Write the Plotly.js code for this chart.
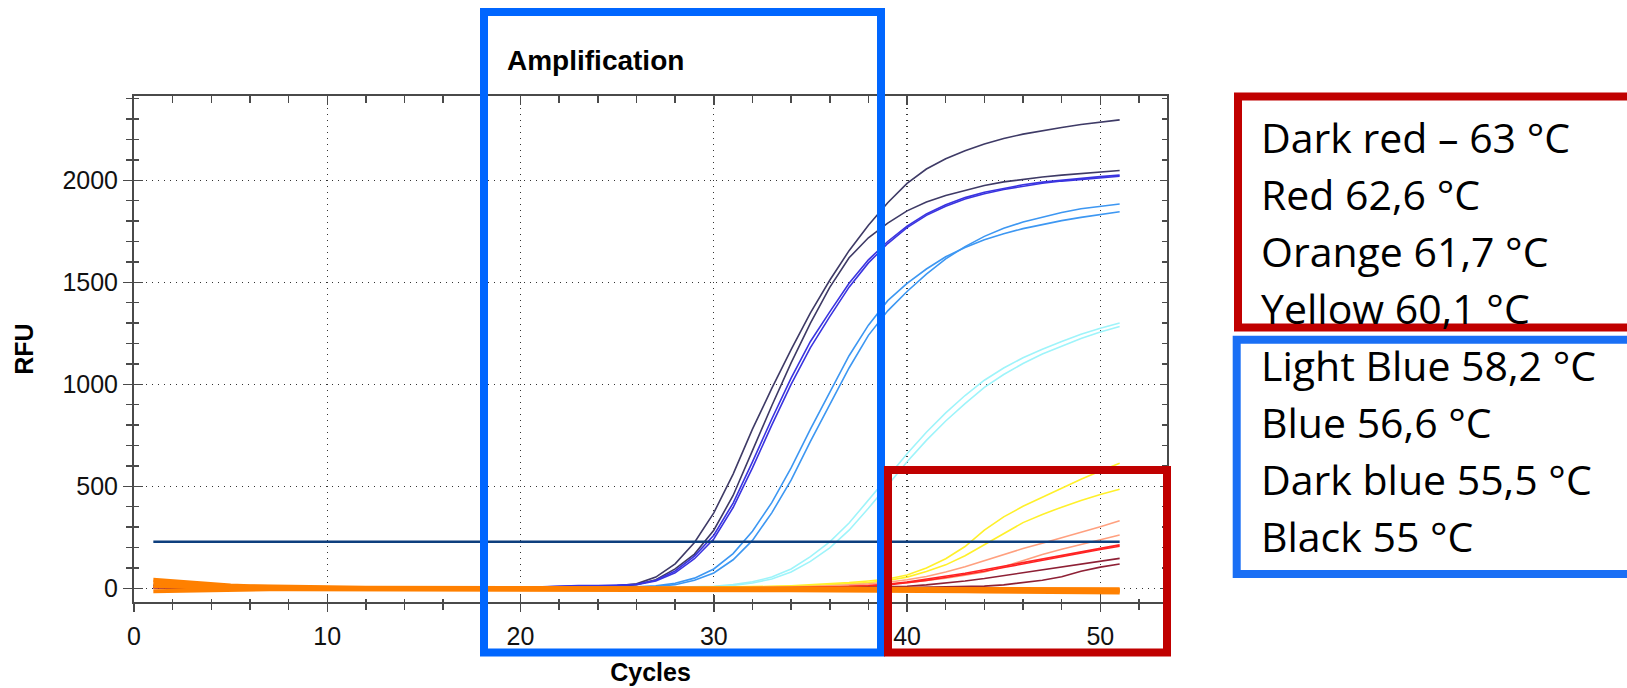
<!DOCTYPE html>
<html>
<head>
<meta charset="utf-8">
<script src="https://cdn.plot.ly/plotly-3.0.1.min.js"></script>
<style>html,body{margin:0;padding:0;background:#fff;}#chart{width:1627px;height:688px;}</style>
</head>
<body>
<div id="chart"></div>
<script>
// ---------- DATA ----------
const cycles = [1,2,3,4,5,6,7,8,9,10,11,12,13,14,15,16,17,18,19,20,21,22,23,24,25,26,27,28,29,30,31,32,33,34,35,36,37,38,39,40,41,42,43,44,45,46,47,48,49,50,51];

// Black (55 °C)
const black1 = [15,10,6,4,3,2,2,1,1,1, 1,1,0,0,0,0,1,1,2,3, 4,6,8,10,12,22,55,120,225,370, 560,780,980,1170,1350,1510,1655,1780,1890,1985, 2055,2105,2145,2178,2205,2226,2244,2259,2273,2285,2296];
const black2 = [12,8,5,3,2,2,1,1,1,0, 0,0,0,0,0,0,0,1,1,2, 3,5,7,9,11,18,42,95,168,285, 455,675,895,1105,1300,1475,1620,1718,1790,1850, 1893,1925,1951,1974,1992,2005,2016,2025,2033,2041,2048];
// Dark blue (55,5 °C)
const darkBlue1 = [14,9,6,4,3,2,2,1,1,1, 1,0,0,0,0,0,0,1,2,4, 8,12,14,14,15,20,40,85,158,260, 418,620,830,1030,1210,1355,1495,1610,1700,1775, 1835,1880,1915,1941,1961,1978,1991,2001,2010,2018,2025];
const darkBlue2 = [13,8,5,3,2,2,1,1,1,0, 0,0,0,0,0,0,0,1,2,3, 6,10,12,13,14,18,36,76,145,242, 396,590,800,1000,1180,1332,1476,1595,1690,1768, 1828,1873,1908,1934,1955,1971,1985,1996,2005,2013,2020];
// Blue (56,6 °C)
const blue1 = [10,7,5,3,2,2,1,1,1,0, 0,0,0,0,0,0,0,0,1,1, 2,3,4,5,6,8,12,25,50,95, 170,280,420,590,780,960,1140,1290,1410,1495, 1565,1625,1670,1708,1738,1763,1784,1802,1818,1833,1846];
const blue2 = [9,6,4,3,2,1,1,1,0,0, 0,0,0,0,0,0,0,0,0,1, 1,2,3,4,5,6,9,18,40,75, 140,235,370,530,720,900,1080,1240,1360,1455, 1540,1615,1675,1725,1765,1795,1820,1842,1860,1873,1884];
// Light blue (58,2 °C)
const lightBlue1 = [8,5,3,2,1,1,1,0,0,0, 0,0,0,0,0,0,0,0,0,0, 1,1,2,2,3,3,4,5,7,10, 18,32,55,95,155,228,320,430,545,660, 765,860,945,1020,1080,1130,1172,1210,1245,1275,1300];
const lightBlue2 = [7,4,3,2,1,1,0,0,0,0, 0,0,0,0,0,0,0,0,0,0, 0,1,1,2,2,3,3,4,6,8, 14,26,46,80,132,198,285,392,505,620, 725,820,905,985,1048,1102,1148,1188,1225,1256,1283];
// Yellow (60,1 °C)
const yellow1 = [6,4,2,1,1,0,0,0,0,0, 0,0,0,0,0,0,0,0,0,0, 0,0,1,1,2,2,3,3,4,5, 6,8,10,13,17,22,28,36,46,65, 100,145,205,285,350,402,447,492,535,575,613];
const yellow2 = [5,3,2,1,1,0,0,0,0,0, 0,0,0,0,0,0,0,0,0,0, 0,0,0,1,1,2,2,3,3,4, 5,6,8,10,13,17,22,28,38,55, 82,115,160,215,270,322,362,398,430,460,486];
// Orange (61,7 °C)
const orange1 = [5,3,2,1,1,0,0,0,0,0, 0,0,0,0,0,0,0,0,0,0, 0,0,0,0,1,1,1,2,2,2, 3,4,5,7,9,12,16,22,30,42, 58,80,106,136,166,195,221,247,274,302,331];
const orange2 = [4,3,2,1,0,0,0,0,0,0, 0,0,0,0,0,0,0,0,0,0, 0,0,0,0,0,1,1,1,1,2, 2,3,4,5,7,9,12,16,21,28, 38,50,64,80,106,136,166,192,214,237,261];
// Red (62,6 °C)
const red1 = [5,3,2,1,0,0,0,0,0,0, 0,0,0,0,0,0,0,0,0,0, 0,0,0,0,0,0,0,1,1,1, 1,2,3,4,5,7,9,13,20,31, 45,59,74,91,109,127,145,162,179,196,213];
const red2 = [4,2,1,1,0,0,0,0,0,0, 0,0,0,0,0,0,0,0,0,0, 0,0,0,0,0,0,0,0,1,1, 1,1,2,3,4,6,8,11,17,27, 39,53,68,84,102,120,138,156,173,190,206];
// Dark red (63 °C)
const darkRed1 = [4,2,1,1,0,0,0,0,0,0, 0,0,0,0,0,0,0,0,0,0, 0,0,0,0,0,0,0,0,0,0, 0,1,1,2,2,3,4,5,6,10, 17,26,36,48,62,77,92,107,121,134,147];
const darkRed2 = [3,2,1,0,0,0,0,0,0,0, 0,0,0,0,0,0,0,0,0,0, 0,0,0,0,0,0,0,0,0,0, 0,0,1,1,1,2,2,3,3,4, 5,6,8,11,17,27,40,57,84,104,119];
// Flat (non-amplifying) orange wells
const flat1 = [42,34,26,19,14,10,8,6,5,4, 4,3,3,3,3,2,2,2,2,2, 2,2,1,1,1,1,1,1,0,0, 0,0,0,-1,-1,-1,-1,-2,-2,-2, -2,-3,-3,-3,-3,-4,-4,-4,-4,-5,-5];
const flat2 = [28,22,17,12,9,7,5,4,3,2, 2,1,1,1,1,1,1,0,0,0, 0,0,0,0,-1,-1,-1,-1,-1,-2, -2,-2,-2,-3,-3,-3,-4,-4,-4,-5, -5,-5,-6,-6,-6,-7,-7,-7,-8,-8,-8];
const flat3 = [12,8,5,3,1,0,-1,-1,-2,-2, -2,-2,-2,-2,-2,-2,-3,-3,-3,-3, -3,-3,-3,-3,-4,-4,-4,-4,-4,-5, -5,-5,-6,-6,-6,-7,-7,-8,-8,-8, -9,-9,-10,-10,-11,-11,-12,-12,-13,-13,-14];
const flat4 = [-14,-12,-10,-8,-7,-6,-5,-5,-5,-5, -5,-5,-5,-5,-5,-5,-5,-5,-6,-6, -6,-6,-6,-6,-7,-7,-7,-7,-8,-8, -8,-9,-9,-10,-10,-11,-11,-12,-12,-13, -13,-14,-14,-15,-16,-16,-17,-18,-18,-19,-20];
// Threshold
const thresholdCycles = [1, 51];
const thresholdRFU = [228, 228];

const xTickVals = [0,10,20,30,40,50];
const xMinorVals = [2,4,6,8,12,14,16,18,22,24,26,28,32,34,36,38,42,44,46,48,52];
const yTickVals = [0,500,1000,1500,2000];
const legendLines = ["Dark red – 63 °C","Red 62,6 °C","Orange 61,7 °C","Yellow 60,1 °C","Light Blue 58,2 °C","Blue 56,6 °C","Dark blue 55,5 °C","Black 55 °C"];

// ---------- STYLE ----------
const W = 1627, H = 688, ML = 134, MR = 460, MT = 96, MB = 86;
const PW = W - ML - MR, PH = H - MT - MB;
const px = x => (x - ML) / PW;
const py = y => (H - MB - y) / PH;

const groups = [
  {data:[black1, black2], color:'#3e3a66', width:1.6},
  {data:[darkBlue1, darkBlue2], color:'#3a34e0', width:1.6},
  {data:[blue1, blue2], color:'#3d97f2', width:1.6},
  {data:[lightBlue1, lightBlue2], color:'#9ef4fa', width:1.6},
  {data:[yellow1, yellow2], color:'#fff02a', width:1.6},
  {data:[orange1, orange2], color:'#ffa07f', width:1.6},
  {data:[red1, red2], color:'#ff2222', width:1.6},
  {data:[darkRed1, darkRed2], color:'#8e2035', width:1.6},
  {data:[flat4, flat3, flat2, flat1], color:'#ff8000', width:4}
];

const traces = [];
groups.forEach(g => g.data.forEach(arr => traces.push({
  x: cycles, y: arr, type:'scatter', mode:'lines',
  line:{color:g.color, width:g.width}, hoverinfo:'skip', showlegend:false
})));
traces.push({x: thresholdCycles, y: thresholdRFU, type:'scatter', mode:'lines',
  line:{color:'#0e3f7e', width:2.5}, hoverinfo:'skip', showlegend:false});
traces.push({x:[null], y:[null], xaxis:'x2', yaxis:'y2', type:'scatter', mode:'lines', showlegend:false, hoverinfo:'skip'});
traces.push({x:[null], y:[null], xaxis:'x3', yaxis:'y3', type:'scatter', mode:'lines', showlegend:false, hoverinfo:'skip'});

const XR = [0, 53.45], YR = [-67, 2413];
const axCol = '#4a4a4a';
const tickFont = {family:'Liberation Sans, Arial, sans-serif', size:25, color:'#111'};
const gridStyle = {showgrid:true, gridcolor:'#333', gridwidth:1.3, griddash:'1px,5px'};

const annotations = legendLines.map((t, i) => ({
  text: t, xref:'paper', yref:'paper', x: px(1259), y: py(150.7 + i*57.1 - 14),
  xanchor:'left', yanchor:'middle', showarrow:false,
  font:{family:'Open Sans, Lato, sans-serif', size:41, color:'#000'}
}));

const shapes = [
  {type:'rect', xref:'paper', yref:'paper', x0:px(484), x1:px(881), y0:py(652.5), y1:py(12), line:{color:'#0066ff', width:8}},
  {type:'rect', xref:'paper', yref:'paper', x0:px(888), x1:px(1167), y0:py(652.5), y1:py(470), line:{color:'#c00000', width:8}},
  {type:'rect', xref:'paper', yref:'paper', x0:px(1238), x1:px(1670), y0:py(327.5), y1:py(96.5), line:{color:'#c00000', width:8}},
  {type:'rect', xref:'paper', yref:'paper', x0:px(1236.7), x1:px(1670), y0:py(574), y1:py(339.7), line:{color:'#1a6ff5', width:8}}
];

const layout = {
  width: W, height: H,
  margin:{l:ML, r:MR, t:MT, b:MB, pad:0},
  paper_bgcolor:'#fff', plot_bgcolor:'#fff',
  showlegend:false,
  title:{text:'Amplification', font:{family:'Liberation Sans, Arial, sans-serif', size:28, weight:700, color:'#000'},
    xref:'container', yref:'container', x:507/W, xanchor:'left', y:1-60.5/H, yanchor:'middle'},
  xaxis:Object.assign({
    range:XR, tickvals:xTickVals, ticks:'outside', ticklen:8, tickwidth:1.5, tickcolor:axCol,
    showline:true, linecolor:axCol, linewidth:2, zeroline:false, tickfont:tickFont, ticklabelstandoff:3,
    minor:{tickvals:xMinorVals, ticks:'outside', ticklen:6, tickwidth:1.5, tickcolor:axCol, showgrid:false},
    title:{text:'Cycles', font:{family:'Liberation Sans, Arial, sans-serif', size:25, weight:700, color:'#000'}, standoff:14},
    fixedrange:true, automargin:false
  }, gridStyle),
  yaxis:Object.assign({
    range:YR, tickvals:yTickVals, ticks:'outside', ticklen:9, tickwidth:1.5, tickcolor:axCol,
    showline:true, linecolor:axCol, linewidth:2, zeroline:false, tickfont:tickFont,
    minor:{dtick:100, tick0:0, ticks:'outside', ticklen:6, tickwidth:1.5, tickcolor:axCol, showgrid:false},
    title:{text:'RFU', font:{family:'Liberation Sans, Arial, sans-serif', size:25, weight:700, color:'#000'}, standoff:22},
    fixedrange:true, automargin:false
  }, gridStyle),
  xaxis2:{overlaying:'x', anchor:'y', side:'bottom', range:XR, tickvals:xTickVals, ticks:'inside', ticklen:7, tickwidth:1.5, tickcolor:axCol,
    minor:{tickvals:xMinorVals, ticks:'inside', ticklen:3, tickwidth:1.5, tickcolor:axCol, showgrid:false},
    showticklabels:false, showgrid:false, showline:false, zeroline:false, fixedrange:true},
  xaxis3:{overlaying:'x', anchor:'y', side:'top', range:XR, tickvals:xTickVals, ticks:'inside', ticklen:9, tickwidth:1.5, tickcolor:axCol,
    minor:{tickvals:xMinorVals, ticks:'inside', ticklen:7, tickwidth:1.5, tickcolor:axCol, showgrid:false},
    showticklabels:false, showgrid:false, showline:true, linecolor:axCol, linewidth:2, zeroline:false, fixedrange:true},
  yaxis2:{overlaying:'y', anchor:'x', side:'left', range:YR, tickvals:yTickVals, ticks:'inside', ticklen:9, tickwidth:1.5, tickcolor:axCol,
    minor:{dtick:100, tick0:0, ticks:'inside', ticklen:5, tickwidth:1.5, tickcolor:axCol, showgrid:false},
    showticklabels:false, showgrid:false, showline:false, zeroline:false, fixedrange:true},
  yaxis3:{overlaying:'y', anchor:'x', side:'right', range:YR, tickvals:yTickVals, ticks:'inside', ticklen:7, tickwidth:1.5, tickcolor:axCol,
    minor:{dtick:100, tick0:0, ticks:'inside', ticklen:5, tickwidth:1.5, tickcolor:axCol, showgrid:false},
    showticklabels:false, showgrid:false, showline:true, linecolor:axCol, linewidth:2, zeroline:false, fixedrange:true},
  shapes: shapes,
  annotations: annotations
};

Plotly.newPlot('chart', traces, layout, {displayModeBar:false, staticPlot:true});
</script>
</body>
</html>
